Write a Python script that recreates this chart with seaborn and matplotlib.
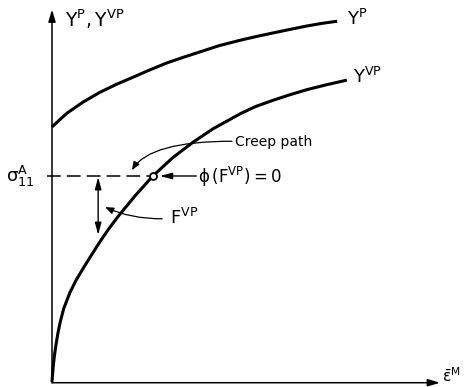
import matplotlib
matplotlib.use("Agg")
import matplotlib.pyplot as plt
from matplotlib.patches import FancyArrowPatch
import pandas as pd
import seaborn as sns

# Yield surfaces: strain (arbitrary units) vs. stress (arbitrary units)
strain_p = [0.0, 1.5, 3.9, 8.0, 12.4, 16.5, 20.9, 25.0, 29.6, 34.0, 38.1,
            43.0, 48.5, 53.0, 57.0, 61.5, 65.7, 69.5, 73.5]
stress_p = [69.7, 71.2, 73.5, 76.5, 79.2, 81.3, 83.3, 85.2, 87.2, 88.8, 90.2,
            91.9, 93.4, 94.5, 95.4, 96.4, 97.3, 98.0, 98.6]

strain_vp = [0.0, 0.1, 0.3, 0.6, 1.0, 1.5, 2.1, 3.0, 4.6, 6.2, 8.0, 10.0,
             12.4, 14.6, 17.0, 21.5, 26.0, 31.0, 36.3, 41.5, 48.5, 52.5,
             57.0, 61.0, 65.7, 71.0, 76.0]
stress_vp = [0.0, 1.5, 4.0, 7.0, 10.0, 13.2, 16.3, 20.0, 24.4, 27.8, 31.0, 34.4,
             38.4, 41.8, 45.2, 51.0, 56.3, 61.2, 65.5, 69.2, 73.3, 75.3,
             77.0, 78.4, 79.9, 81.3, 82.5]

sigma_a = 56.3          # applied stress level
sigma_strain = 26.0     # where the applied stress meets Y^VP
fvp_strain = 11.9       # location of the overstress arrow
fvp_low = 40.2          # Y^VP at that strain

labels_curve = ["$\\mathregular{Y^P}$", "$\\mathregular{Y^{VP}}$"]

sns.set_theme(style="white")
plt.rcParams["font.family"] = ["DejaVu Sans"]
plt.rcParams["mathtext.default"] = "regular"
plt.rcParams["text.color"] = "black"

df = pd.concat([
    pd.DataFrame({"strain": strain_p, "stress": stress_p, "curve": "P"}),
    pd.DataFrame({"strain": strain_vp, "stress": stress_vp, "curve": "VP"}),
])

fig = plt.figure(figsize=(4.66, 3.87), dpi=100)
ax = fig.add_axes([0, 0, 1, 1])

sns.lineplot(data=df, x="strain", y="stress", hue="curve", units="curve",
             estimator=None, sort=False, palette=["black", "black"],
             linewidth=2.2, legend=False, ax=ax,
             solid_joinstyle="round", solid_capstyle="butt")

ax.set_xlim(-13.4, 106.7)
ax.set_ylim(-1.37, 104.4)
ax.axis("off")

# Coordinate axes drawn as arrows
axis_kw = dict(arrowstyle="-|>,head_length=0.6,head_width=0.18", color="black",
               lw=1.1, shrinkA=0, shrinkB=0)
ax.annotate("", xy=(0, 101.8), xytext=(0, -0.2), arrowprops=axis_kw)
ax.annotate("", xy=(100, -0.2), xytext=(0, -0.2), arrowprops=axis_kw)

# Applied stress level (dashed) and the point on Y^VP
ax.plot([-1.3, sigma_strain - 0.8], [sigma_a, sigma_a], color="black", lw=1.1,
        dashes=(9, 4))
ax.plot([sigma_strain], [sigma_a], marker="o", ms=5, mfc="white", mec="black",
        mew=1.3)

# Overstress F^VP: double-headed arrow between sigma level and Y^VP
ax.annotate("", xy=(fvp_strain, fvp_low), xytext=(fvp_strain, sigma_a - 0.3),
            arrowprops=dict(arrowstyle="<|-|>,head_length=0.6,head_width=0.16",
                            color="black", lw=1.0, shrinkA=0, shrinkB=0))

# phi(F^VP)=0 pointer
ax.annotate("", xy=(27.8, sigma_a), xytext=(37.2, sigma_a),
            arrowprops=dict(arrowstyle="-|>,head_length=0.6,head_width=0.16",
                            color="black", lw=1.0, shrinkA=0, shrinkB=0))

# Curved leaders
ax.add_patch(FancyArrowPatch((46.4, 65.8), (20.6, 57.9),
                             connectionstyle="angle3,angleA=0,angleB=58",
                             arrowstyle="-|>,head_length=5,head_width=2",
                             color="black", lw=0.9, shrinkA=0, shrinkB=0))
ax.add_patch(FancyArrowPatch((28.4, 44.6), (13.7, 47.8),
                             connectionstyle="angle3,angleA=0,angleB=-25",
                             arrowstyle="-|>,head_length=5,head_width=2",
                             color="black", lw=0.9, shrinkA=0, shrinkB=0))

# Text labels
ax.text(3.4, 97.0, "$\\mathregular{Y^P,Y^{VP}}$", fontsize=13.5, va="baseline")
ax.text(76.0, 97.5, labels_curve[0], fontsize=13, va="baseline")
ax.text(77.6, 81.7, labels_curve[1], fontsize=13, va="baseline")
ax.text(-11.8, sigma_a, "$\\sigma^A_{11}$", fontsize=13, va="center")
ax.text(37.6, sigma_a - 0.3, "$\\phi\\,(F^{VP})=0$", fontsize=12, va="center")
ax.text(47.2, 65.6, "Creep path", fontsize=10, va="center")
ax.text(30.4, 44.8, "$F^{VP}$", fontsize=13, va="center")
ax.text(100.6, 1.8, "$\\bar{\\varepsilon}^M$", fontsize=11, va="center")

fig.savefig("out.png", dpi=100, facecolor="white")
